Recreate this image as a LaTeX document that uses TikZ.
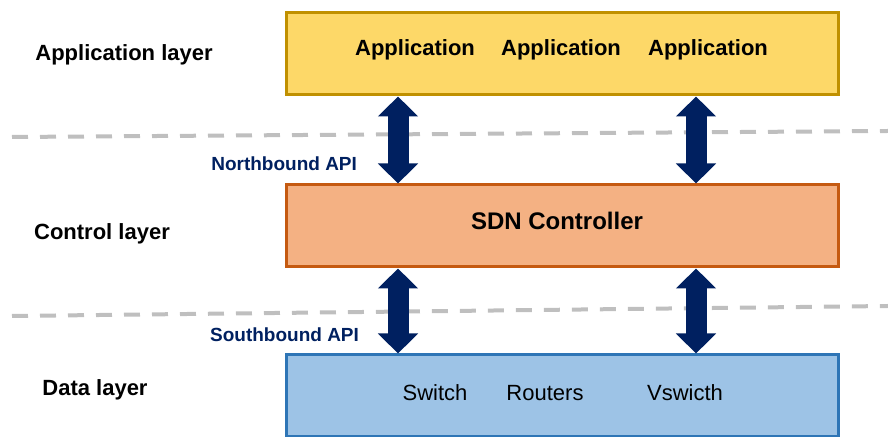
\documentclass[tikz,border=0pt]{standalone}
\usepackage{fontspec}
\setmainfont{Liberation Sans}
\usepackage{tikz}
\usetikzlibrary{arrows.meta,positioning,calc}

\definecolor{appfill}{HTML}{FDD868}
\definecolor{appline}{HTML}{C09000}
\definecolor{ctlfill}{HTML}{F4B183}
\definecolor{ctlline}{HTML}{C55A11}
\definecolor{datfill}{HTML}{9DC3E6}
\definecolor{datline}{HTML}{2E75B6}
\definecolor{navy}{HTML}{002060}
\definecolor{dashgray}{HTML}{BFBFBF}

\tikzset{
	layerbox/.style={draw, line width=1.5pt, minimum width=276pt, minimum height=41pt},
	layername/.style={font=\fontsize{11}{13}\selectfont\bfseries},
	apiname/.style={font=\fontsize{9.5}{11}\selectfont\bfseries, text=navy, anchor=east},
	biarrow/.style={navy, line width=10.5pt, {Triangle[length=10pt,width=19.5pt]}-{Triangle[length=10pt,width=19.5pt]}},
	sep/.style={dashgray, line width=2pt, dash pattern=on 8pt off 6pt}
}

\begin{document}
\begin{tikzpicture}[x=0.5pt,y=-0.5pt]
		\useasboundingbox (0,0) rectangle (888,437);
		% separators
		\draw[sep] (12,137) -- (888,131);
		\draw[sep] (12,316) -- (888,306);
		% layers
		\node[layerbox, fill=appfill, draw=appline] (app) at (562,54) {};
		\node[layerbox, fill=ctlfill, draw=ctlline] (ctl) at (562,226) {};
		\node[layerbox, fill=datfill, draw=datline] (dat) at (562,396) {};
		% layer names
		\node[layername] (appname) at (124,55) {Application layer};
		\node[layername] (ctlname) at (102,234) {Control layer};
		\node[layername] (datname) at (95,390) {Data layer};
		% box texts
		\node[layername] (app1) at (415,50) {Application};
		\node[layername] (app2) at (561,50) {Application};
		\node[layername] (app3) at (708,50) {Application};
		\node[font=\fontsize{12}{14}\selectfont\bfseries] (sdn) at (557,221) {SDN Controller};
		\node[font=\fontsize{11}{13}\selectfont] (sw) at (435,393) {Switch};
		\node[font=\fontsize{11}{13}\selectfont] (rt) at (545,393) {Routers};
		\node[font=\fontsize{11}{13}\selectfont] (vs) at (685,393) {Vswicth};
		% arrows
		\coordinate (lx) at (398,0);
		\coordinate (rx) at (696,0);
		\draw[biarrow] (app.south -| lx) -- (ctl.north -| lx);
		\draw[biarrow] (app.south -| rx) -- (ctl.north -| rx);
		\draw[biarrow] (ctl.south -| lx) -- (dat.north -| lx);
		\draw[biarrow] (ctl.south -| rx) -- (dat.north -| rx);
		\node[apiname] (nb) at (364,164) {Northbound API};
		\node[apiname] (sb) at (366,335) {Southbound API};
\end{tikzpicture}
\end{document}
